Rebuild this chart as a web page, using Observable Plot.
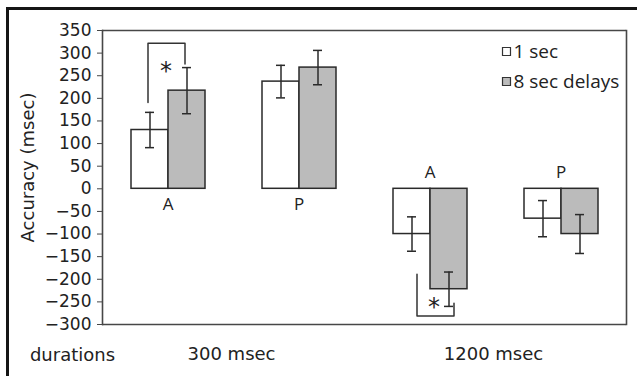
<!DOCTYPE html>
<html><head><meta charset="utf-8">
<script src="https://cdn.jsdelivr.net/npm/d3@7"></script>
<script src="https://cdn.jsdelivr.net/npm/@observablehq/plot@0.6"></script>
<style>
body{margin:0;background:#fff}
#wrap{position:relative;width:637px;height:376px;overflow:hidden;background:#fff}
#border{position:absolute;left:6px;top:7px;right:-10px;bottom:-10px;border-left:3px solid #151515;border-top:3px solid #151515;pointer-events:none}
</style></head><body>
<div id="wrap"><div id="border"></div></div>
<script>
// ---- data ----
const durations = ["300 msec", "1200 msec"];
const positions = ["A", "P"];
const series = ["1 sec", "8 sec delays"];
const oneSec = [130, 237, -100, -66];
const eightSec = [217, 268, -222, -100];
const oneSecErr = [39, 36, 38, 40];
const eightSecErr = [51, 38, 38, 43];
const yTicks = [-300, -250, -200, -150, -100, -50, 0, 50, 100, 150, 200, 250, 300, 350];
const bracket300A = [191, 322, 322, 276];
const bracket1200A = [-189, -281, -281, -253];
const bracketSeries = [series[0], series[0], series[1], series[1]];
const starY = [259, -262];
const yLabel = "Accuracy (msec)";
const xLabel = "durations";

// ---- tables ----
const groupKeys = durations.flatMap(d => positions.map(p => `${d} ${p}`));
const groupRows = groupKeys.map((g, i) => ({g, pos: positions[i % 2], dur: durations[Math.floor(i / 2)]}));
const rows = groupKeys.flatMap((g, i) => [
  {g, s: series[0], value: oneSec[i], err: oneSecErr[i]},
  {g, s: series[1], value: eightSec[i], err: eightSecErr[i]}
]);
const br1 = bracket300A.map((y, i) => ({g: groupKeys[0], s: bracketSeries[i], y}));
const br2 = bracket1200A.map((y, i) => ({g: groupKeys[2], s: bracketSeries[i], y}));
const durRows = durations.map((dur, i) => ({g: groupKeys[i * 2 + 1], dur}));

const ink = "#2a2a2a";
const frameInk = "#474747";

const chart = Plot.plot({
  width: 637, height: 376,
  marginLeft: 100, marginRight: 10, marginTop: 30, marginBottom: 52,
  style: {background: "transparent", fontFamily: "DejaVu Sans", color: "#222", overflow: "visible"},
  fx: {domain: groupKeys, padding: 0, axis: null, label: null},
  x: {domain: series, paddingInner: 0, paddingOuter: 0.757, axis: null},
  y: {domain: [-300, 350], label: null},
  color: {domain: series, range: ["#ffffff", "#bbbbbb"]},
  marks: [
    // plot frame
    Plot.ruleY([-300, 350], {stroke: frameInk, strokeWidth: 1.6}),
    Plot.frame({anchor: "left", facetAnchor: "left", stroke: frameInk, strokeWidth: 1.6}),
    Plot.frame({anchor: "right", facetAnchor: "right", stroke: frameInk, strokeWidth: 1.6}),
    Plot.axisY(yTicks, {tickSize: 5, tickPadding: 6, fontSize: 17, label: null, stroke: frameInk}),
    // bars
    Plot.barY(rows, {fx: "g", x: "s", y1: 0, y2: "value", fill: "s", stroke: ink, strokeWidth: 1.5}),
    // error bars
    Plot.ruleX(rows, {fx: "g", x: "s", y1: d => d.value - d.err, y2: d => d.value + d.err, stroke: ink, strokeWidth: 1.5}),
    Plot.tickY(rows, {fx: "g", x: "s", y: d => d.value - d.err, insetLeft: 14, insetRight: 14, stroke: ink, strokeWidth: 1.5}),
    Plot.tickY(rows, {fx: "g", x: "s", y: d => d.value + d.err, insetLeft: 14, insetRight: 14, stroke: ink, strokeWidth: 1.5}),
    // significance brackets
    Plot.line(br1, {fx: "g", x: "s", y: "y", dx: -2, stroke: "#333", strokeWidth: 1.5}),
    Plot.line(br2, {fx: "g", x: "s", y: "y", dx: 5, stroke: "#333", strokeWidth: 1.5}),
    Plot.text([{g: groupKeys[0], y: starY[0]}], {fx: "g", y: "y", text: () => "*", dx: -2, fontSize: 24, fill: "#222"}),
    Plot.text([{g: groupKeys[2], y: starY[1]}], {fx: "g", y: "y", text: () => "*", dx: 4, fontSize: 24, fill: "#222"}),
    // A / P labels
    Plot.text(groupRows.filter((d, i) => oneSec[i] >= 0), {fx: "g", y: 0, text: "pos", dy: 16, fontSize: 17, fontFamily: "Open Sans", fill: "#222"}),
    Plot.text(groupRows.filter((d, i) => oneSec[i] < 0), {fx: "g", y: 0, text: "pos", dy: -16, fontSize: 17, fontFamily: "Open Sans", fill: "#222"}),
    // legend
    ...series.map((s, i) => Plot.dot([{g: groupKeys[3], s}], {fx: "g", frameAnchor: "top-left", dx: 11, dy: 21 + i * 30, symbol: "square", r: 4.5, fill: "s", stroke: "#333", strokeWidth: 1.2})),
    ...series.map((s, i) => Plot.text([{g: groupKeys[3], s}], {fx: "g", frameAnchor: "top-left", dx: 18, dy: 21 + i * 30, text: "s", textAnchor: "start", lineAnchor: "middle", fontSize: 19, fontFamily: "Open Sans", fill: "#222"})),
    // y label
    Plot.text([{g: groupKeys[0]}], {fx: "g", frameAnchor: "left", text: () => yLabel, textAnchor: "middle", lineAnchor: "middle", rotate: -90, dx: -74, dy: -10, fontSize: 18, fill: "#222"}),
    // bottom duration labels
    Plot.text([{g: groupKeys[0]}], {fx: "g", frameAnchor: "bottom-left", text: () => xLabel, textAnchor: "middle", lineAnchor: "middle", dx: -30, dy: 31, fontSize: 18, fill: "#222"}),
    Plot.text(durRows, {fx: "g", frameAnchor: "bottom-left", text: "dur", textAnchor: "middle", lineAnchor: "middle", dx: -2, dy: 30, fontSize: 18, fill: "#222"})
  ]
});
const wrap = document.getElementById("wrap");
wrap.insertBefore(chart, document.getElementById("border"));
</script>
</body></html>
